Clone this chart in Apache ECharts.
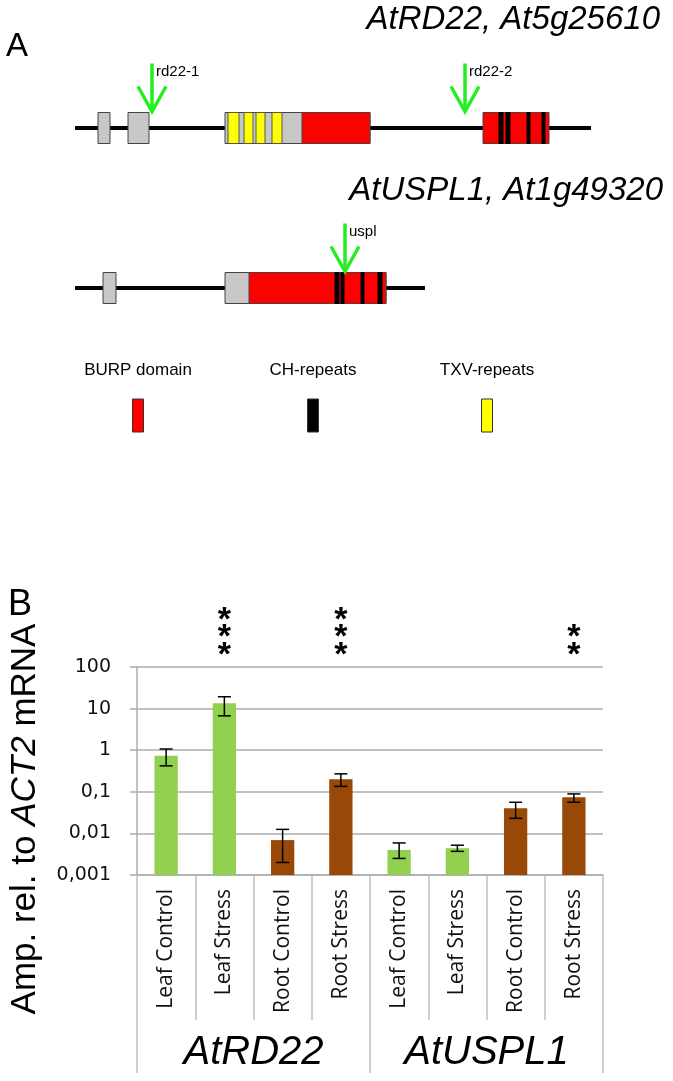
<!DOCTYPE html>
<html><head><meta charset="utf-8">
<script src="https://cdn.jsdelivr.net/npm/echarts@6/dist/echarts.min.js"></script>
<style>html,body{margin:0;padding:0;background:#fff}#c{width:673px;height:1081px}</style>
</head><body><div id="c"></div>
<script>
// ---------- Panel A data (schematic gene positions, diagram units) ----------
const geneTitles = ['AtRD22, At5g25610', 'AtUSPL1, At1g49320'];
const geneSpans = [[0, 0, 516], [1, 0, 350]];
const exonBlocks = [
  [0, 23, 35, 'other'], [0, 53, 74, 'other'], [0, 150, 295, 'other'], [0, 227, 295, 'burp'],
  [0, 408, 474, 'burp'],
  [1, 28, 41, 'other'], [1, 150, 311, 'other'], [1, 174, 311, 'burp']
];
const repeatStripes = [
  [0, 153, 164, 'txv'], [0, 169, 178, 'txv'], [0, 181, 190, 'txv'], [0, 197, 207, 'txv'],
  [0, 424, 428, 'ch'], [0, 431, 435, 'ch'], [0, 452, 455, 'ch'], [0, 467, 470, 'ch'],
  [1, 260, 264, 'ch'], [1, 266, 269, 'ch'], [1, 286, 289, 'ch'], [1, 303, 307, 'ch']
];
const insertions = [[0, 77, 'rd22-1'], [0, 390, 'rd22-2'], [1, 270, 'uspl']];
const legendLabels = ['BURP domain', 'CH-repeats', 'TXV-repeats'];
const legendKinds = ['burp', 'ch', 'txv'];

// ---------- Panel B data ----------
const categories = ['Leaf Control', 'Leaf Stress', 'Root Control', 'Root Stress',
                    'Leaf Control', 'Leaf Stress', 'Root Control', 'Root Stress'];
const geneGroups = ['AtRD22', 'AtUSPL1'];
const tissues = ['leaf', 'leaf', 'root', 'root', 'leaf', 'leaf', 'root', 'root'];
const meanValues = [0.74, 13.4, 0.0069, 0.20, 0.0040, 0.0044, 0.040, 0.074];
const errLow = [0.42, 6.7, 0.0020, 0.135, 0.0025, 0.0037, 0.023, 0.056];
const errHigh = [1.07, 19.3, 0.0125, 0.27, 0.0059, 0.0052, 0.056, 0.089];
const significance = ['', '***', '', '***', '', '', '', '**'];
const yMin = 0.001, yMax = 100;

// ---------- styles ----------
const featureColors = { other: '#C8C8C8', burp: '#FF0000', txv: '#FFFF00', ch: '#000000' };
const tissueColors = { leaf: '#92D050', root: '#984807' };
const arrowColor = '#22EE22';
const gridGray = '#ADADAD';
const sans = 'Liberation Sans, Arial, sans-serif';

const chart = echarts.init(document.getElementById('c'), null, { renderer: 'canvas' });

const boxHalf = 15.5;
const sigData = significance.map((s, i) => [i, yMax, s]).filter(d => d[2]);

const option = {
  backgroundColor: '#fff',
  animation: false,
  title: [
    { text: 'A', left: 6, top: 30, padding: 0, textStyle: { fontSize: 33, fontWeight: 'normal', fontFamily: sans, color: '#000' } },
    { text: geneTitles[0], right: 13, top: 3, padding: 0, textStyle: { fontSize: 33, fontWeight: 'normal', fontStyle: 'italic', fontFamily: sans, color: '#000' } },
    { text: geneTitles[1], right: 10, top: 174, padding: 0, textStyle: { fontSize: 33, fontWeight: 'normal', fontStyle: 'italic', fontFamily: sans, color: '#000' } },
    { text: 'B', left: 8, top: 587, padding: 0, textStyle: { fontSize: 36, fontWeight: 'normal', fontFamily: sans, color: '#000' } }
  ],
  graphic: legendLabels.map((t, k) => ({
    type: 'group',
    x: [138, 313, 487][k], y: 0,
    children: [
      { type: 'text', x: 0, y: 370, style: { text: t, fontSize: 17, fontFamily: sans, fill: '#000', align: 'center', verticalAlign: 'middle' } },
      { type: 'rect', shape: { x: -5.5, y: 399, width: 11, height: 33 }, style: { fill: featureColors[legendKinds[k]], stroke: '#333', lineWidth: 1 } }
    ]
  })),
  grid: [
    { left: 75, top: 128, width: 516, height: 160 },
    { left: 134, top: 667, right: 70, bottom: 206 }
  ],
  xAxis: [
    { gridIndex: 0, type: 'value', min: 0, max: 516, show: false },
    {
      gridIndex: 1, type: 'category', data: categories, position: 'bottom',
      axisLine: { show: true, lineStyle: { color: gridGray, width: 1.5 } },
      axisTick: { show: true, interval: 0, length: 145, lineStyle: { color: '#BFBFBF', width: 1.5 } },
      axisLabel: { interval: 0, rotate: 90, margin: 14, fontSize: 21, fontFamily: 'Open Sans', color: '#111' }
    },
    {
      gridIndex: 1, type: 'category', data: geneGroups, position: 'bottom',
      axisLine: { show: false },
      axisTick: { show: true, interval: 0, length: 198, lineStyle: { color: '#BFBFBF', width: 1.5 } },
      axisLabel: { interval: 0, margin: 158, fontSize: 40, fontStyle: 'italic', fontFamily: sans, color: '#000' }
    }
  ],
  yAxis: [
    { gridIndex: 0, type: 'value', min: 0, max: 1, inverse: true, show: false },
    {
      gridIndex: 1, type: 'log', logBase: 10, min: yMin, max: yMax, splitNumber: 5,
      axisLine: { show: true, lineStyle: { color: gridGray, width: 1.5 } },
      axisTick: { show: true, length: 7, lineStyle: { color: gridGray, width: 1.5 } },
      splitLine: { show: true, lineStyle: { color: gridGray, width: 1.5 } },
      axisLabel: {
        margin: 26, fontSize: 19, fontFamily: 'DejaVu Sans', color: '#111',
        formatter: v => String(parseFloat(Number(v).toPrecision(6))).replace('.', ',')
      },
      name: '{n|Amp. rel. to }{i|ACT2}{n| mRNA}',
      nameLocation: 'middle', nameGap: 94, nameRotate: 90,
      nameTextStyle: {
        color: '#000', fontSize: 35, fontFamily: sans, padding: [0, 96, 0, 0],
        rich: { n: { fontSize: 35, fontFamily: sans, color: '#000' }, i: { fontSize: 35, fontFamily: sans, fontStyle: 'italic', color: '#000' } }
      }
    }
  ],
  series: [
    // gene backbone lines
    {
      type: 'custom', xAxisIndex: 0, yAxisIndex: 0, z: 1, silent: true,
      data: geneSpans,
      renderItem: (p, api) => {
        const a = api.coord([api.value(1), api.value(0)]);
        const b = api.coord([api.value(2), api.value(0)]);
        return { type: 'line', shape: { x1: a[0], y1: a[1], x2: b[0], y2: b[1] }, style: { stroke: '#000', lineWidth: 4 } };
      }
    },
    // exons
    {
      type: 'custom', xAxisIndex: 0, yAxisIndex: 0, z: 2, silent: true,
      data: exonBlocks,
      renderItem: (p, api) => {
        const d = exonBlocks[p.dataIndex];
        const a = api.coord([d[1], d[0]]);
        const b = api.coord([d[2], d[0]]);
        return { type: 'rect', shape: { x: a[0], y: a[1] - boxHalf, width: b[0] - a[0], height: boxHalf * 2 },
                 style: { fill: featureColors[d[3]], stroke: '#444', lineWidth: 1 } };
      }
    },
    // repeat stripes
    {
      type: 'custom', xAxisIndex: 0, yAxisIndex: 0, z: 3, silent: true,
      data: repeatStripes,
      renderItem: (p, api) => {
        const d = repeatStripes[p.dataIndex];
        const a = api.coord([d[1], d[0]]);
        const b = api.coord([d[2], d[0]]);
        return { type: 'rect', shape: { x: a[0], y: a[1] - boxHalf, width: b[0] - a[0], height: boxHalf * 2 },
                 style: { fill: featureColors[d[3]], stroke: d[3] === 'ch' ? '#000' : '#555', lineWidth: 1 } };
      }
    },
    // insertion arrows
    {
      type: 'custom', xAxisIndex: 0, yAxisIndex: 0, z: 4, silent: true,
      data: insertions,
      renderItem: (p, api) => {
        const d = insertions[p.dataIndex];
        const c = api.coord([d[1], d[0]]);
        const tipY = c[1] - boxHalf - 1;
        const x = c[0];
        const st = { stroke: arrowColor, lineWidth: 3.5, fill: null };
        return {
          type: 'group', children: [
            { type: 'line', shape: { x1: x, y1: tipY - 48, x2: x, y2: tipY }, style: st },
            { type: 'polyline', shape: { points: [[x - 14, tipY - 25], [x, tipY], [x + 14, tipY - 25]] }, style: st },
            { type: 'text', x: x + 4, y: tipY - 40, style: { text: d[2], fontSize: 15, fontFamily: sans, fill: '#000', align: 'left', verticalAlign: 'middle' } }
          ]
        };
      }
    },
    // expression bars
    {
      type: 'custom', xAxisIndex: 1, yAxisIndex: 1, z: 2,
      data: meanValues.map((v, i) => [i, v]),
      renderItem: (p, api) => {
        const i = api.value(0), v = api.value(1);
        const top = api.coord([i, v]);
        const base = api.coord([i, yMin]);
        const w = api.size([1, 1], [i, 1])[0] * 0.4;
        return { type: 'rect', shape: { x: top[0] - w / 2, y: top[1], width: w, height: base[1] - top[1] },
                 style: { fill: tissueColors[tissues[i]] } };
      }
    },
    // error bars
    {
      type: 'custom', xAxisIndex: 1, yAxisIndex: 1, z: 3,
      data: errLow.map((lo, i) => [i, lo, errHigh[i]]),
      renderItem: (p, api) => {
        const i = api.value(0);
        const lo = api.coord([i, api.value(1)]);
        const hi = api.coord([i, api.value(2)]);
        const h = 6.5;
        const st = { stroke: '#000', lineWidth: 1.5 };
        return {
          type: 'group', children: [
            { type: 'line', shape: { x1: lo[0], y1: lo[1], x2: hi[0], y2: hi[1] }, style: st },
            { type: 'line', shape: { x1: lo[0] - h, y1: lo[1], x2: lo[0] + h, y2: lo[1] }, style: st },
            { type: 'line', shape: { x1: hi[0] - h, y1: hi[1], x2: hi[0] + h, y2: hi[1] }, style: st }
          ]
        };
      }
    },
    // significance asterisks
    {
      type: 'custom', xAxisIndex: 1, yAxisIndex: 1, z: 5, clip: false,
      data: sigData,
      renderItem: (p, api) => {
        const d = sigData[p.dataIndex];
        const c = api.coord([d[0], d[1]]);
        return { type: 'text', x: c[0], y: c[1] - 3,
                 style: { text: d[2].split('').join('\n'), fontSize: 34, fontWeight: 'bold', fontFamily: sans, lineHeight: 17.5, fill: '#000', align: 'center', verticalAlign: 'bottom' } };
      }
    }
  ]
};
chart.setOption(option);
</script>
</body></html>
